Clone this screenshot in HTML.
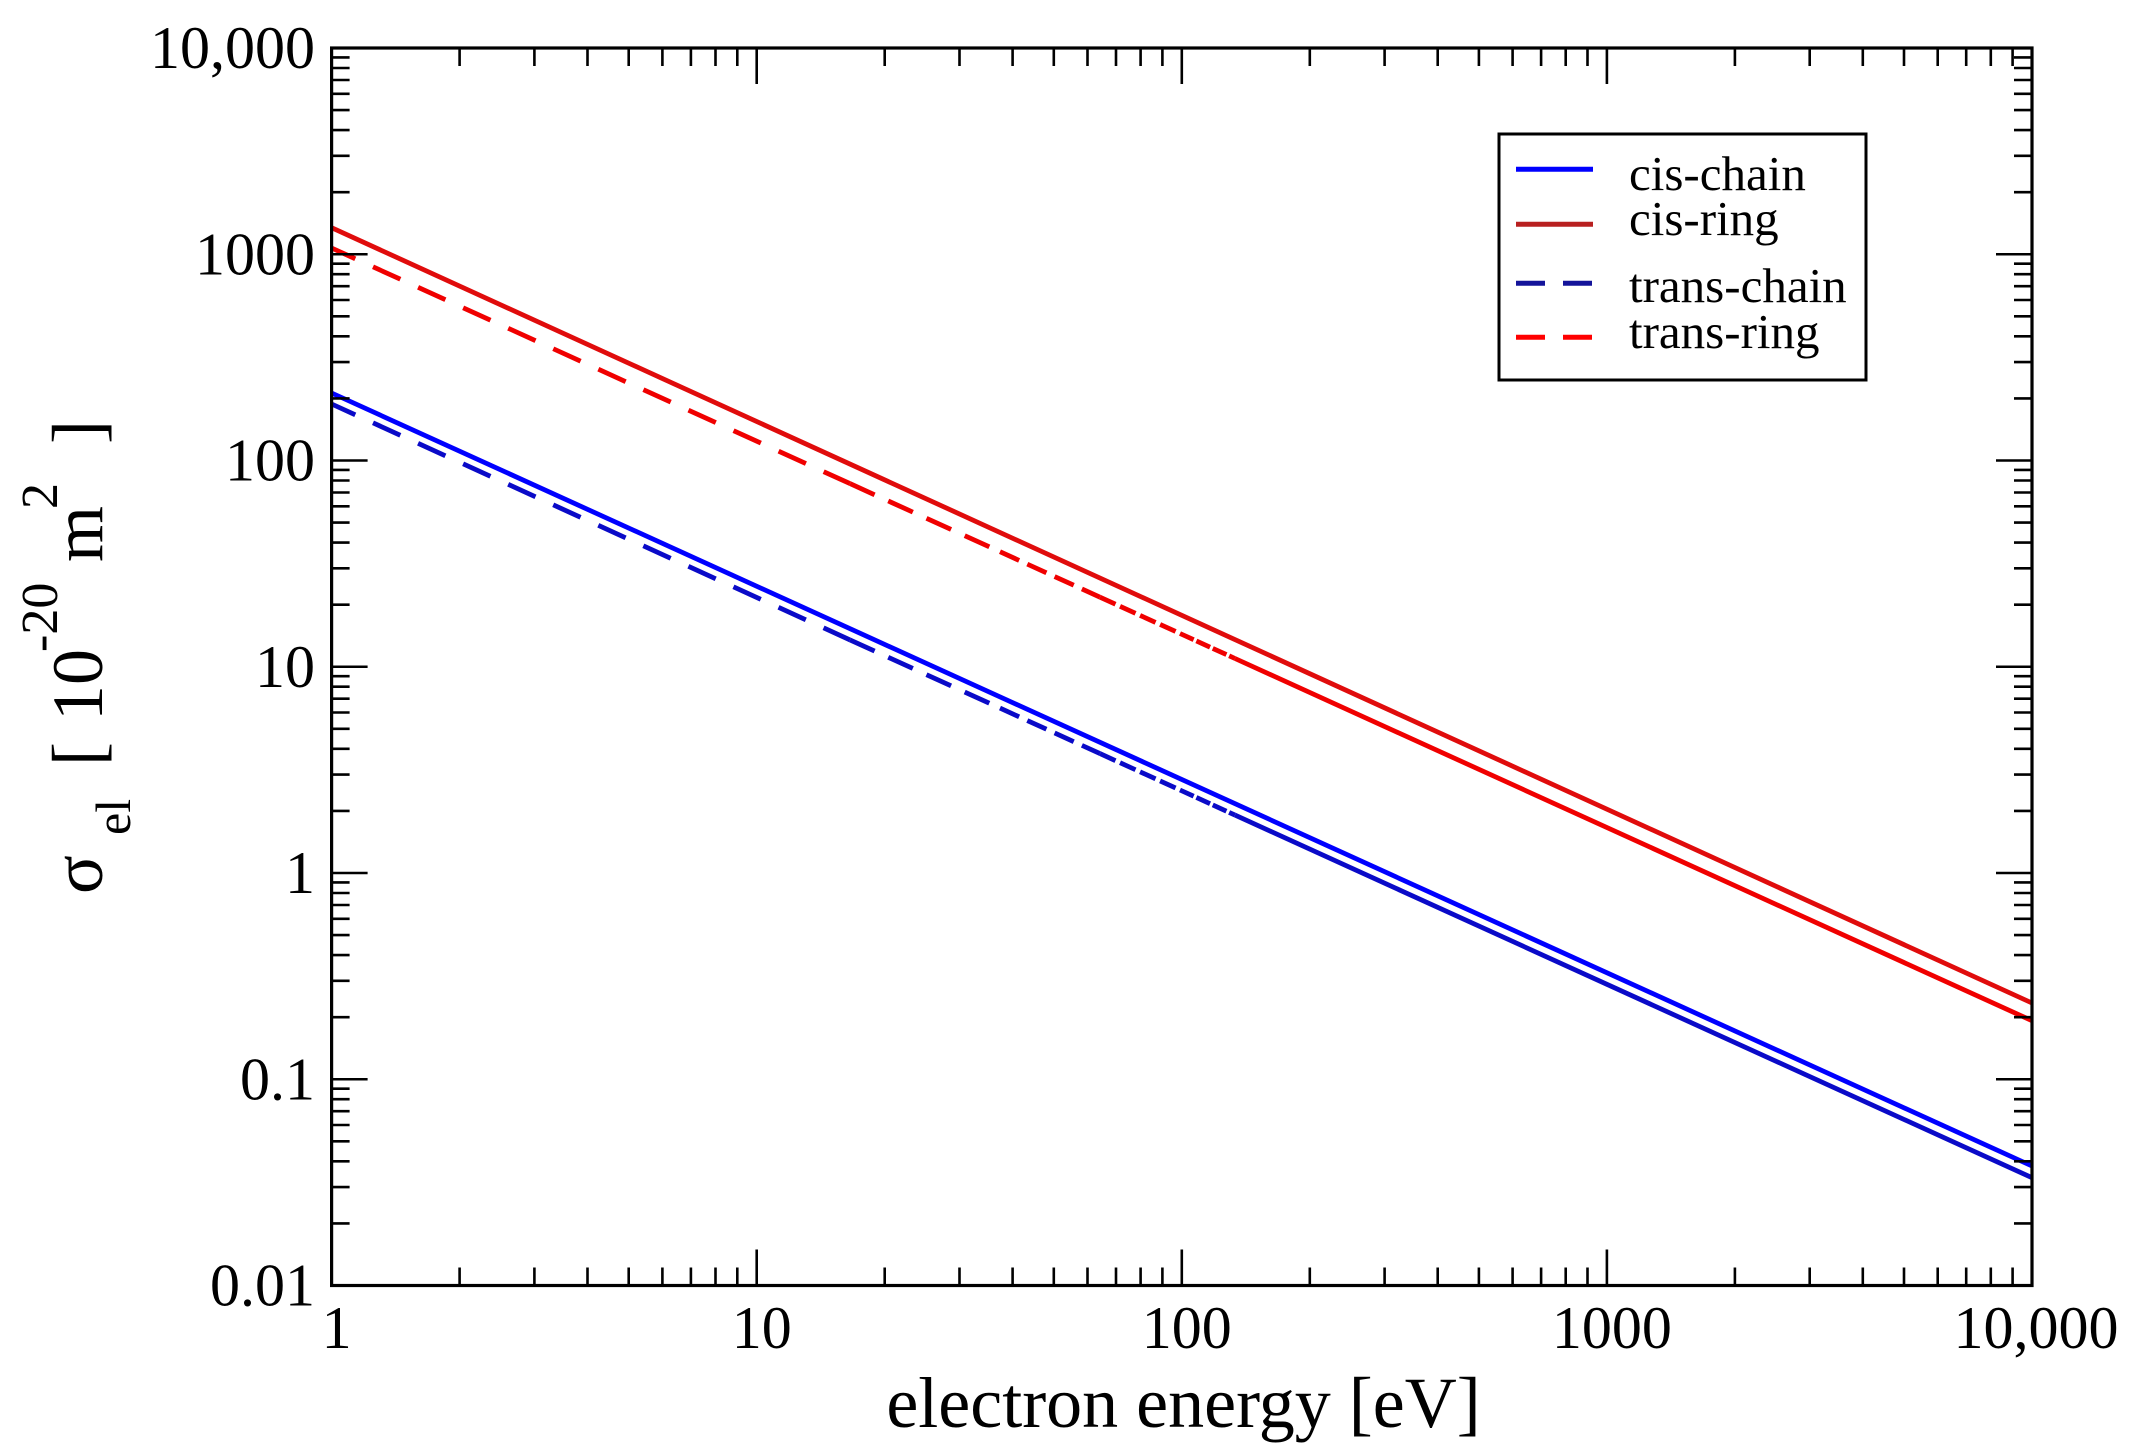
<!DOCTYPE html>
<html>
<head>
<meta charset="utf-8">
<style>
html,body{margin:0;padding:0;background:#fff;overflow:hidden;}
svg{display:block;}
text{font-family:"Liberation Serif","DejaVu Serif",serif;fill:#000;}
</style>
</head>
<body>
<svg width="2131" height="1451" viewBox="0 0 2131 1451" xmlns="http://www.w3.org/2000/svg">
<rect x="0" y="0" width="2131" height="1451" fill="#fff"/>

<!-- data series -->
<g fill="none" stroke-linecap="butt" stroke-width="4.8">
  <!-- cis-ring (solid red) -->
  <line x1="331.6" y1="227.7" x2="2032" y2="1003" stroke="#e00c0c"/>
  <!-- cis-chain (solid blue) -->
  <line x1="331.6" y1="393" x2="2032" y2="1166" stroke="#0000ff"/>
  <!-- trans-ring (dashed red) -->
  <g stroke="#f00000">
    <line x1="331.6" y1="248" x2="850" y2="483.6" stroke-dasharray="30 19.5" stroke-dashoffset="4"/>
    <line x1="850" y1="483.6" x2="1000" y2="551.7" stroke-dasharray="27 15"/>
    <line x1="1000" y1="551.7" x2="1100" y2="597.2" stroke-dasharray="21 9"/>
    <line x1="1100" y1="597.2" x2="1180" y2="633.5" stroke-dasharray="17 5"/>
    <line x1="1180" y1="633.5" x2="1235" y2="658.5" stroke-dasharray="15 3"/>
    <line x1="1235" y1="658.5" x2="2032" y2="1020.7"/>
  </g>
  <!-- trans-chain (dashed blue) -->
  <g stroke="#0a0ac8">
    <line x1="331.6" y1="404" x2="850" y2="639.9" stroke-dasharray="30 19.5" stroke-dashoffset="4"/>
    <line x1="850" y1="639.9" x2="1000" y2="708.1" stroke-dasharray="27 15"/>
    <line x1="1000" y1="708.1" x2="1100" y2="753.6" stroke-dasharray="21 9"/>
    <line x1="1100" y1="753.6" x2="1180" y2="790" stroke-dasharray="17 5"/>
    <line x1="1180" y1="790" x2="1235" y2="815.1" stroke-dasharray="15 3"/>
    <line x1="1235" y1="815.1" x2="2032" y2="1177.7"/>
  </g>
</g>

<!-- ticks -->
<defs>
  <path id="yt" d="
M331.6 1223.4h18M331.6 1187.1h18M331.6 1161.3h18M331.6 1141.3h18M331.6 1125h18M331.6 1111.2h18M331.6 1099.2h18M331.6 1088.7h18
M331.6 1017.2h18M331.6 980.8h18M331.6 955.1h18M331.6 935.1h18M331.6 918.8h18M331.6 905h18M331.6 893h18M331.6 882.4h18
M331.6 810.9h18M331.6 774.6h18M331.6 748.8h18M331.6 728.8h18M331.6 712.5h18M331.6 698.7h18M331.6 686.7h18M331.6 676.2h18
M331.6 604.7h18M331.6 568.3h18M331.6 542.6h18M331.6 522.6h18M331.6 506.3h18M331.6 492.5h18M331.6 480.5h18M331.6 469.9h18
M331.6 398.4h18M331.6 362.1h18M331.6 336.3h18M331.6 316.3h18M331.6 300h18M331.6 286.2h18M331.6 274.2h18M331.6 263.7h18
M331.6 192.2h18M331.6 155.8h18M331.6 130.1h18M331.6 110.1h18M331.6 93.8h18M331.6 80h18M331.6 68h18M331.6 57.4h18
M331.6 48h36M331.6 254.25h36M331.6 460.5h36M331.6 666.75h36M331.6 873h36M331.6 1079.25h36M331.6 1285.5h36"/>
  <path id="xt" d="
M459.6 1285.5v-18M534.4 1285.5v-18M587.5 1285.5v-18M628.7 1285.5v-18M662.4 1285.5v-18M690.9 1285.5v-18M715.5 1285.5v-18M737.3 1285.5v-18
M884.7 1285.5v-18M959.5 1285.5v-18M1012.6 1285.5v-18M1053.8 1285.5v-18M1087.5 1285.5v-18M1116 1285.5v-18M1140.6 1285.5v-18M1162.4 1285.5v-18
M1309.8 1285.5v-18M1384.6 1285.5v-18M1437.7 1285.5v-18M1478.9 1285.5v-18M1512.6 1285.5v-18M1541.1 1285.5v-18M1565.7 1285.5v-18M1587.5 1285.5v-18
M1734.9 1285.5v-18M1809.7 1285.5v-18M1862.8 1285.5v-18M1904 1285.5v-18M1937.7 1285.5v-18M1966.2 1285.5v-18M1990.8 1285.5v-18M2012.6 1285.5v-18
M331.6 1285.5v-36M756.7 1285.5v-36M1181.8 1285.5v-36M1606.9 1285.5v-36M2032 1285.5v-36"/>
</defs>
<g stroke="#000" stroke-width="2.6" fill="none">
  <use href="#yt"/>
  <use href="#yt" transform="translate(2363.6,0) scale(-1,1)"/>
  <use href="#xt"/>
  <use href="#xt" transform="translate(0,1333.5) scale(1,-1)"/>
</g>
<!-- frame -->
<rect x="331.6" y="48" width="1700.4" height="1237.5" fill="none" stroke="#000" stroke-width="3.2"/>

<!-- y tick labels -->
<g font-size="60" text-anchor="end">
  <text x="315" y="68">10,000</text>
  <text x="315" y="274.25">1000</text>
  <text x="315" y="480.5">100</text>
  <text x="315" y="686.75">10</text>
  <text x="315" y="893">1</text>
  <text x="315" y="1099.25">0.1</text>
  <text x="315" y="1305.5">0.01</text>
</g>

<!-- x tick labels -->
<g font-size="60" text-anchor="middle">
  <text x="336.6" y="1348">1</text>
  <text x="761.7" y="1348">10</text>
  <text x="1186.8" y="1348">100</text>
  <text x="1611.9" y="1348">1000</text>
  <text x="2036" y="1348">10,000</text>
</g>

<!-- x axis title -->
<text x="1183.5" y="1427" font-size="72" text-anchor="middle">electron energy [eV]</text>

<!-- y axis title -->
<g transform="rotate(-90)">
  <text x="-894" y="102" font-size="72">σ</text>
  <text x="-835" y="130" font-size="50">el</text>
  <text x="-766" y="102" font-size="72">[</text>
  <text x="-721" y="102" font-size="72">10</text>
  <text x="-652" y="57" font-size="52">-20</text>
  <text x="-562" y="102" font-size="72">m</text>
  <text x="-509" y="57" font-size="52">2</text>
  <text x="-444" y="102" font-size="72">]</text>
</g>

<!-- legend -->
<rect x="1499" y="134" width="367" height="246" fill="#fff" stroke="#000" stroke-width="3"/>
<g stroke-width="5" fill="none">
  <line x1="1516" y1="169.3" x2="1593" y2="169.3" stroke="#0000ff"/>
  <line x1="1516" y1="224.3" x2="1593" y2="224.3" stroke="#b82020"/>
  <line x1="1516" y1="283.3" x2="1593" y2="283.3" stroke="#14149a" stroke-dasharray="29 18"/>
  <line x1="1516" y1="337.3" x2="1593" y2="337.3" stroke="#ff0000" stroke-dasharray="29 18"/>
</g>
<g font-size="49">
  <text x="1629" y="190">cis-chain</text>
  <text x="1629" y="235">cis-ring</text>
  <text x="1629" y="302">trans-chain</text>
  <text x="1629" y="348">trans-ring</text>
</g>
</svg>
</body>
</html>
